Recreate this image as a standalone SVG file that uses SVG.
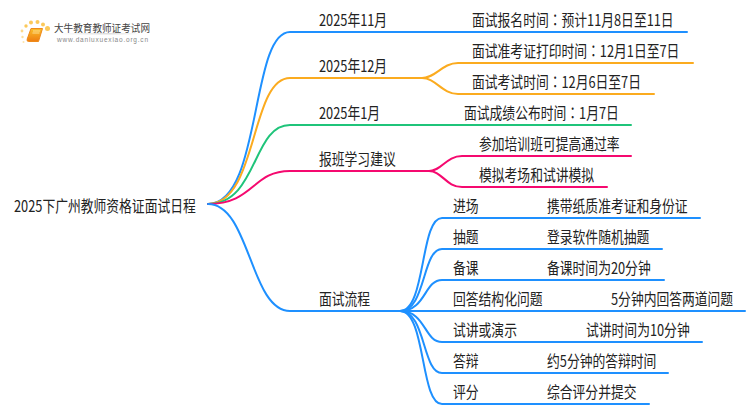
<svg xmlns="http://www.w3.org/2000/svg" width="750" height="410" viewBox="0 0 750 410">
<defs><linearGradient id="bk" x1="0" y1="0" x2="0" y2="1"><stop offset="0" stop-color="#fbbf2a"/><stop offset="1" stop-color="#ee7d11"/></linearGradient>
<linearGradient id="sh" x1="0" y1="0" x2="1" y2="0"><stop offset="0" stop-color="#ddd" stop-opacity="0"/><stop offset=".6" stop-color="#ddd"/><stop offset="1" stop-color="#ddd" stop-opacity="0"/></linearGradient></defs>
<style>
text{font-family:"Noto Sans CJK SC","Liberation Sans",sans-serif;fill:#222;font-size:16px}
.k{font-family:"Noto Sans CJK TC",sans-serif}
.c{fill:none;stroke-width:2;stroke-linecap:round}
.b{stroke:#1e90ff}.o{stroke:#fbab1f}.g{stroke:#1fc47a}.p{stroke:#f5096f}
.d{fill:#fbc95a}
</style>
<rect width="750" height="410" fill="#fff"/>
<g id="logo">
<circle class="d" cx="47.5" cy="28.5" r="2.5"/><circle class="d" cx="43" cy="24.5" r="2"/><circle class="d" cx="37.5" cy="22" r="2"/><circle class="d" cx="31" cy="22.5" r="2"/><circle class="d" cx="26" cy="26" r="1.7"/><circle class="d" cx="22" cy="31" r="1.4" opacity=".7"/><circle class="d" cx="22.5" cy="37" r="1.2" opacity=".6"/><circle class="d" cx="23.5" cy="42" r="1" opacity=".5"/>
<path d="M31 28.5H42.5L38.5 41.5H28.5Q26.5 41.5 27.2 39Z" fill="url(#bk)" stroke="#ee8a1a" stroke-width="1" stroke-linejoin="round"/>
<path d="M33 31H40M32.4 33H39.4" stroke="#fff3c0" stroke-width=".7"/>
<rect x="60" y="33" width="80" height="1.5" fill="url(#sh)"/>
<text transform="translate(54 31.5)" textLength="96" lengthAdjust="spacingAndGlyphs" style="font-size:10.5px;fill:#444">大牛教育教师证考试网</text>
<text x="57" y="41.5" textLength="91" style="font-size:6.5px;fill:#888;font-family:'Liberation Sans',sans-serif">www.daniuxuexiao.org.cn</text>
</g>
<g id="connectors">
<path class="c b" d="M208 204C262 204 250 32 290 32H687"/>
<path class="c o" d="M208 204C258 204 250 78 290 78H422"/>
<path class="c o" d="M422 78C436 78 442 63 458 63H693"/>
<path class="c o" d="M422 78C436 78 442 94 458 94H654"/>
<path class="c g" d="M208 204C258 204 252 125 290 125H631"/>
<path class="c p" d="M208 204C254 204 252 171 290 171H429"/>
<path class="c p" d="M429 171C442 171 446 156 462 156H631"/>
<path class="c p" d="M429 171C442 171 446 187 462 187H607"/>
<path class="c b" d="M208 204C250 204 250 311 290 311H400"/>
<path class="c b" d="M400 311C426 311 420 218 442 218H700"/>
<path class="c b" d="M400 311C426 311 422 249 442 249H662"/>
<path class="c b" d="M400 311C426 311 424 280 442 280H664"/>
<path class="c b" d="M400 311H745"/>
<path class="c b" d="M400 311C426 311 424 342 442 342H702"/>
<path class="c b" d="M400 311C426 311 422 373 442 373H668"/>
<path class="c b" d="M400 311C426 311 420 404 442 404H649"/>
</g>
<g id="root"><text transform="translate(14 212) scale(.8 1)">2025下广州教师资格证面试日程</text></g>
<g id="n1"><text transform="translate(319 25.5) scale(.8 1)">2025年11月</text></g>
<g id="n1a"><text transform="translate(472 26) scale(.8 1)">面试报名时间<tspan class="k">：</tspan>预计11月8日至11日</text></g>
<g id="n2"><text transform="translate(319 72) scale(.8 1)">2025年12月</text></g>
<g id="n2a"><text transform="translate(472 57) scale(.8 1)">面试准考证打印时间<tspan class="k">：</tspan>12月1日至7日</text></g>
<g id="n2b"><text transform="translate(472 88) scale(.8 1)">面试考试时间<tspan class="k">：</tspan>12月6日至7日</text></g>
<g id="n3"><text transform="translate(319 119) scale(.8 1)">2025年1月</text></g>
<g id="n3a"><text transform="translate(464 119) scale(.8 1)">面试成绩公布时间<tspan class="k">：</tspan>1月7日</text></g>
<g id="n4"><text transform="translate(319 165) scale(.8 1)">报班学习建议</text></g>
<g id="n4a"><text transform="translate(479 150) scale(.8 1)">参加培训班可提高通过率</text></g>
<g id="n4b"><text transform="translate(479 181) scale(.8 1)">模拟考场和试讲模拟</text></g>
<g id="n5"><text transform="translate(319 305) scale(.8 1)">面试流程</text></g>
<g id="s1"><text transform="translate(453 212) scale(.8 1)">进场</text><text transform="translate(547 212) scale(.8 1)">携带纸质准考证和身份证</text></g>
<g id="s2"><text transform="translate(453 243) scale(.8 1)">抽题</text><text transform="translate(547 243) scale(.8 1)">登录软件随机抽题</text></g>
<g id="s3"><text transform="translate(453 274) scale(.8 1)">备课</text><text transform="translate(547 274) scale(.8 1)">备课时间为20分钟</text></g>
<g id="s4"><text transform="translate(453 305) scale(.8 1)">回答结构化问题</text><text transform="translate(611 305) scale(.8 1)">5分钟内回答两道问题</text></g>
<g id="s5"><text transform="translate(453 336) scale(.8 1)">试讲或演示</text><text transform="translate(586 336) scale(.8 1)">试讲时间为10分钟</text></g>
<g id="s6"><text transform="translate(453 367) scale(.8 1)">答辩</text><text transform="translate(547 367) scale(.8 1)">约5分钟的答辩时间</text></g>
<g id="s7"><text transform="translate(453 398) scale(.8 1)">评分</text><text transform="translate(547 398) scale(.8 1)">综合评分并提交</text></g>
</svg>
